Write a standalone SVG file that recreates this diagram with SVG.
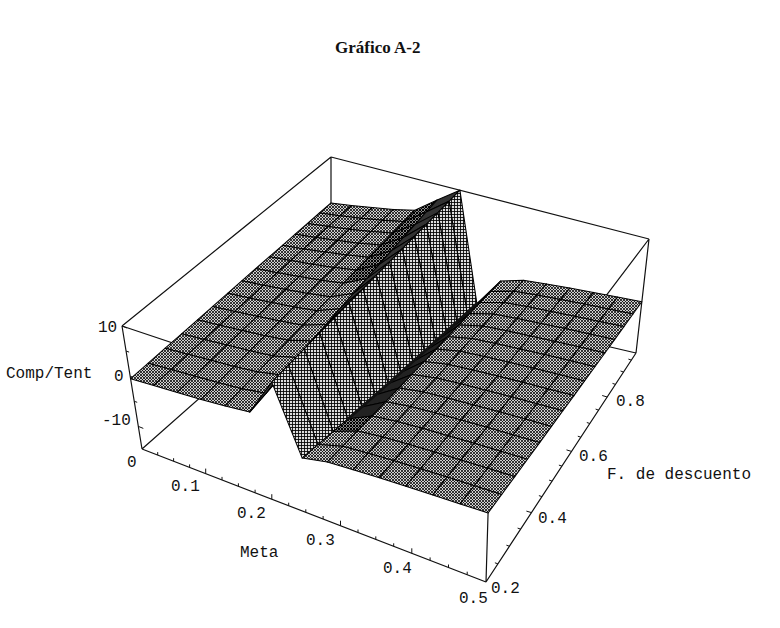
<svg xmlns="http://www.w3.org/2000/svg" width="780" height="628" viewBox="0 0 780 628">
<defs>
<pattern id="hp" width="3" height="3" patternUnits="userSpaceOnUse"><rect width="3" height="3" fill="#cfcfcf"/><path d="M-1,-1L4,4M4,-1L-1,4" stroke="#000" stroke-width="0.75"/></pattern>
<pattern id="hw" width="3" height="3" patternUnits="userSpaceOnUse"><rect width="3" height="3" fill="#dedede"/><path d="M0,1.5H3M1.5,0V3" stroke="#000" stroke-width="0.85"/></pattern>
<pattern id="hd" width="3" height="3" patternUnits="userSpaceOnUse"><rect width="3" height="3" fill="#888"/><path d="M-1,-1L4,4M4,-1L-1,4" stroke="#000" stroke-width="1"/></pattern>
</defs>
<style>
.bx{fill:none;stroke:#111;stroke-width:1.2}
.tk{fill:none;stroke:#111;stroke-width:1}
#surface polygon{stroke:#000;stroke-width:1.05;stroke-linejoin:round}
.p{fill:url(#hp)}.d{fill:url(#hd)}.s{fill:#333}.w{fill:url(#hw)}.c{fill:#222}
.crease{fill:none;stroke:#111;stroke-width:2.8;stroke-linejoin:round;stroke-linecap:round}
.lab{font-family:"Liberation Mono","DejaVu Sans Mono",monospace;font-size:16px;fill:#111}
.ttl{font-family:"Liberation Serif","Times New Roman",serif;font-size:17px;font-weight:bold;fill:#111}
</style>
<rect width="780" height="628" fill="#fff"/>
<text class="ttl" x="335" y="53">Gráfico A-2</text>
<g id="box">
<path class="bx" d="M331,157L649,239M122,326L331,157M649,239L490,449M122,326L490,449M331,157L331,282M649,239L636,353M122,326L142,449M490,449L486,582M142,449L486,582M486,582L636,353M142,449L331,282M331,282L636,353"/>
<path class="tk" d="M122,326l5,2M126.1,351.1l3,1M130.2,376.2l5,2M134.2,401.3l3,1M138.3,426.4l5,2M205.7,473.6v-5M271.8,499.2v-5M340.5,525.7v-5M411.8,553.3v-5M157.7,455.1v-3M173.6,461.2v-3M189.6,467.4v-3M222,479.9v-3M238.4,486.3v-3M255.1,492.7v-3M288.7,505.7v-3M305.8,512.3v-3M323.1,519v-3M358,532.5v-3M375.8,539.4v-3M393.7,546.3v-3M430.1,560.4v-3M448.5,567.5v-3M467.2,574.7v-3M531.4,512.6l-5,-1.5M571.5,451.4l-5,-1.5M607.2,397l-5,-1.5M497.9,563.8l-3,-1M509.4,546.2l-3,-1M520.6,529.1l-3,-1M541.9,496.6l-3,-1M552.1,481.1l-3,-1M561.9,466.1l-3,-1M580.8,437.2l-3,-1M589.8,423.5l-3,-1M598.6,410.1l-3,-1M615.5,384.4l-3,-1M623.5,372l-3,-1M631.4,360.1l-3,-1"/>
</g>
<g id="surface">
<polygon class="p" points="319.4,213 340,215.8 351.5,205.5 331,202.9"/>
<polygon class="p" points="340,215.8 361,218.3 372.3,207.6 351.5,205.5"/>
<polygon class="p" points="361,218.3 382.3,220.3 393.4,209.4 372.3,207.6"/>
<polygon class="p" points="382.3,220.3 403.9,221.5 414.9,210.3 393.4,209.4"/>
<polygon class="d" points="403.9,221.5 426.2,212 437.2,199.9 414.9,210.3"/>
<polygon class="s" points="426.2,212 449.1,201.3 459.9,190.2 437.2,199.9"/>
<polygon class="w" points="449.1,201.3 467.1,312.6 476.9,303.6 459.9,190.2"/>
<polygon class="c" points="467.1,312.6 490.6,291.6 500.5,281.1 476.9,303.6"/>
<polygon class="p" points="490.6,291.6 513.7,291.2 523.4,280.3 500.5,281.1"/>
<polygon class="p" points="513.7,291.2 536.9,295.1 546.5,283.9 523.4,280.3"/>
<polygon class="p" points="536.9,295.1 560.4,299.6 569.8,288.1 546.5,283.9"/>
<polygon class="p" points="560.4,299.6 584.3,304.1 593.5,292.4 569.8,288.1"/>
<polygon class="p" points="584.3,304.1 608.5,309 617.5,297.1 593.5,292.4"/>
<polygon class="p" points="608.5,309 633,314 641.8,301.8 617.5,297.1"/>

<polygon class="p" points="307.5,223.5 328.3,226.5 340,215.8 319.4,213"/>
<polygon class="p" points="328.3,226.5 349.3,229.2 361,218.3 340,215.8"/>
<polygon class="p" points="349.3,229.2 370.8,231.6 382.3,220.3 361,218.3"/>
<polygon class="p" points="370.8,231.6 392.5,233.1 403.9,221.5 382.3,220.3"/>
<polygon class="d" points="392.5,233.1 414.9,224.6 426.2,212 403.9,221.5"/>
<polygon class="s" points="414.9,224.6 437.9,212.6 449.1,201.3 426.2,212"/>
<polygon class="w" points="437.9,212.6 456.9,321.9 467.1,312.6 449.1,201.3"/>
<polygon class="c" points="456.9,321.9 480.5,302.4 490.6,291.6 467.1,312.6"/>
<polygon class="p" points="480.5,302.4 503.7,302.5 513.7,291.2 490.6,291.6"/>
<polygon class="p" points="503.7,302.5 527,306.6 536.9,295.1 513.7,291.2"/>
<polygon class="p" points="527,306.6 550.7,311.4 560.4,299.6 536.9,295.1"/>
<polygon class="p" points="550.7,311.4 574.8,316.2 584.3,304.1 560.4,299.6"/>
<polygon class="p" points="574.8,316.2 599.2,321.4 608.5,309 584.3,304.1"/>
<polygon class="p" points="599.2,321.4 623.9,326.6 633,314 608.5,309"/>

<polygon class="p" points="295.2,234.2 316.1,237.5 328.3,226.5 307.5,223.5"/>
<polygon class="p" points="316.1,237.5 337.4,240.5 349.3,229.2 328.3,226.5"/>
<polygon class="p" points="337.4,240.5 358.9,243.2 370.8,231.6 349.3,229.2"/>
<polygon class="p" points="358.9,243.2 380.9,245 392.5,233.1 370.8,231.6"/>
<polygon class="d" points="380.9,245 403.3,237.5 414.9,224.6 392.5,233.1"/>
<polygon class="s" points="403.3,237.5 426.3,224.3 437.9,212.6 414.9,224.6"/>
<polygon class="w" points="426.3,224.3 446.5,331.5 456.9,321.9 437.9,212.6"/>
<polygon class="c" points="446.5,331.5 470,313.5 480.5,302.4 456.9,321.9"/>
<polygon class="p" points="470,313.5 493.3,314.1 503.7,302.5 480.5,302.4"/>
<polygon class="p" points="493.3,314.1 516.9,318.5 527,306.6 503.7,302.5"/>
<polygon class="p" points="516.9,318.5 540.7,323.5 550.7,311.4 527,306.6"/>
<polygon class="p" points="540.7,323.5 565,328.6 574.8,316.2 550.7,311.4"/>
<polygon class="p" points="565,328.6 589.6,334.1 599.2,321.4 574.8,316.2"/>
<polygon class="p" points="589.6,334.1 614.6,339.6 623.9,326.6 599.2,321.4"/>

<polygon class="p" points="282.5,245.3 303.6,248.9 316.1,237.5 295.2,234.2"/>
<polygon class="p" points="303.6,248.9 325,252.1 337.4,240.5 316.1,237.5"/>
<polygon class="p" points="325,252.1 346.8,255.1 358.9,243.2 337.4,240.5"/>
<polygon class="p" points="346.8,255.1 368.8,257.3 380.9,245 358.9,243.2"/>
<polygon class="d" points="368.8,257.3 391.3,250.8 403.3,237.5 380.9,245"/>
<polygon class="s" points="391.3,250.8 414.4,236.4 426.3,224.3 403.3,237.5"/>
<polygon class="w" points="414.4,236.4 435.7,341.3 446.5,331.5 426.3,224.3"/>
<polygon class="c" points="435.7,341.3 459.1,324.9 470,313.5 446.5,331.5"/>
<polygon class="p" points="459.1,324.9 482.6,326.1 493.3,314.1 470,313.5"/>
<polygon class="p" points="482.6,326.1 506.4,330.8 516.9,318.5 493.3,314.1"/>
<polygon class="p" points="506.4,330.8 530.5,336 540.7,323.5 516.9,318.5"/>
<polygon class="p" points="530.5,336 554.9,341.4 565,328.6 540.7,323.5"/>
<polygon class="p" points="554.9,341.4 579.7,347.1 589.6,334.1 565,328.6"/>
<polygon class="p" points="579.7,347.1 604.9,353 614.6,339.6 589.6,334.1"/>

<polygon class="p" points="269.4,256.7 290.7,260.6 303.6,248.9 282.5,245.3"/>
<polygon class="p" points="290.7,260.6 312.3,264.2 325,252.1 303.6,248.9"/>
<polygon class="p" points="312.3,264.2 334.2,267.5 346.8,255.1 325,252.1"/>
<polygon class="p" points="334.2,267.5 356.4,270.1 368.8,257.3 346.8,255.1"/>
<polygon class="d" points="356.4,270.1 379,264.6 391.3,250.8 368.8,257.3"/>
<polygon class="s" points="379,264.6 402.2,248.9 414.4,236.4 391.3,250.8"/>
<polygon class="w" points="402.2,248.9 424.4,351.4 435.7,341.3 414.4,236.4"/>
<polygon class="c" points="424.4,351.4 447.9,336.7 459.1,324.9 435.7,341.3"/>
<polygon class="p" points="447.9,336.7 471.6,338.5 482.6,326.1 459.1,324.9"/>
<polygon class="p" points="471.6,338.5 495.5,343.4 506.4,330.8 482.6,326.1"/>
<polygon class="p" points="495.5,343.4 519.8,349 530.5,336 506.4,330.8"/>
<polygon class="p" points="519.8,349 544.5,354.6 554.9,341.4 530.5,336"/>
<polygon class="p" points="544.5,354.6 569.5,360.6 579.7,347.1 554.9,341.4"/>
<polygon class="p" points="569.5,360.6 594.9,366.7 604.9,353 579.7,347.1"/>

<polygon class="p" points="255.9,268.5 277.4,272.7 290.7,260.6 269.4,256.7"/>
<polygon class="p" points="277.4,272.7 299.2,276.6 312.3,264.2 290.7,260.6"/>
<polygon class="p" points="299.2,276.6 321.2,280.2 334.2,267.5 312.3,264.2"/>
<polygon class="p" points="321.2,280.2 343.7,283.2 356.4,270.1 334.2,267.5"/>
<polygon class="d" points="343.7,283.2 366.4,278.8 379,264.6 356.4,270.1"/>
<polygon class="s" points="366.4,278.8 389.5,261.8 402.2,248.9 379,264.6"/>
<polygon class="w" points="389.5,261.8 412.8,361.8 424.4,351.4 402.2,248.9"/>
<polygon class="c" points="412.8,361.8 436.3,348.9 447.9,336.7 424.4,351.4"/>
<polygon class="p" points="436.3,348.9 460.1,351.2 471.6,338.5 447.9,336.7"/>
<polygon class="p" points="460.1,351.2 484.3,356.5 495.5,343.4 471.6,338.5"/>
<polygon class="p" points="484.3,356.5 508.8,362.3 519.8,349 495.5,343.4"/>
<polygon class="p" points="508.8,362.3 533.7,368.2 544.5,354.6 519.8,349"/>
<polygon class="p" points="533.7,368.2 559,374.5 569.5,360.6 544.5,354.6"/>
<polygon class="p" points="559,374.5 584.6,380.9 594.9,366.7 569.5,360.6"/>

<polygon class="p" points="242,280.7 263.6,285.2 277.4,272.7 255.9,268.5"/>
<polygon class="p" points="263.6,285.2 285.6,289.4 299.2,276.6 277.4,272.7"/>
<polygon class="p" points="285.6,289.4 307.9,293.4 321.2,280.2 299.2,276.6"/>
<polygon class="p" points="307.9,293.4 330.5,296.8 343.7,283.2 321.2,280.2"/>
<polygon class="p" points="330.5,296.8 353.3,293.5 366.4,278.8 343.7,283.2"/>
<polygon class="s" points="353.3,293.5 376.4,275.1 389.5,261.8 366.4,278.8"/>
<polygon class="w" points="376.4,275.1 400.7,372.6 412.8,361.8 389.5,261.8"/>
<polygon class="c" points="400.7,372.6 424.3,361.5 436.3,348.9 412.8,361.8"/>
<polygon class="p" points="424.3,361.5 448.4,364.4 460.1,351.2 436.3,348.9"/>
<polygon class="p" points="448.4,364.4 472.7,369.9 484.3,356.5 460.1,351.2"/>
<polygon class="p" points="472.7,369.9 497.5,376 508.8,362.3 484.3,356.5"/>
<polygon class="p" points="497.5,376 522.6,382.3 533.7,368.2 508.8,362.3"/>
<polygon class="p" points="522.6,382.3 548.1,388.9 559,374.5 533.7,368.2"/>
<polygon class="p" points="548.1,388.9 574,395.6 584.6,380.9 559,374.5"/>

<polygon class="p" points="227.6,293.3 249.5,298.1 263.6,285.2 242,280.7"/>
<polygon class="p" points="249.5,298.1 271.6,302.6 285.6,289.4 263.6,285.2"/>
<polygon class="p" points="271.6,302.6 294.1,307 307.9,293.4 285.6,289.4"/>
<polygon class="p" points="294.1,307 316.9,310.8 330.5,296.8 307.9,293.4"/>
<polygon class="p" points="316.9,310.8 339.9,308.7 353.3,293.5 330.5,296.8"/>
<polygon class="s" points="339.9,308.7 363,288.8 376.4,275.1 353.3,293.5"/>
<polygon class="w" points="363,288.8 388.2,383.7 400.7,372.6 376.4,275.1"/>
<polygon class="c" points="388.2,383.7 411.9,374.5 424.3,361.5 400.7,372.6"/>
<polygon class="p" points="411.9,374.5 436.1,378 448.4,364.4 424.3,361.5"/>
<polygon class="p" points="436.1,378 460.8,383.8 472.7,369.9 448.4,364.4"/>
<polygon class="p" points="460.8,383.8 485.7,390.3 497.5,376 472.7,369.9"/>
<polygon class="p" points="485.7,390.3 511.1,396.8 522.6,382.3 497.5,376"/>
<polygon class="p" points="511.1,396.8 536.8,403.7 548.1,388.9 522.6,382.3"/>
<polygon class="p" points="536.8,403.7 562.9,410.8 574,395.6 548.1,388.9"/>

<polygon class="p" points="212.8,306.4 234.8,311.4 249.5,298.1 227.6,293.3"/>
<polygon class="p" points="234.8,311.4 257.2,316.3 271.6,302.6 249.5,298.1"/>
<polygon class="p" points="257.2,316.3 279.9,321.1 294.1,307 271.6,302.6"/>
<polygon class="p" points="279.9,321.1 302.9,325.3 316.9,310.8 294.1,307"/>
<polygon class="p" points="302.9,325.3 326,324.5 339.9,308.7 316.9,310.8"/>
<polygon class="s" points="326,324.5 349,303 363,288.8 339.9,308.7"/>
<polygon class="w" points="349,303 375.3,395.1 388.2,383.7 363,288.8"/>
<polygon class="c" points="375.3,395.1 399.1,387.9 411.9,374.5 388.2,383.7"/>
<polygon class="p" points="399.1,387.9 423.5,392 436.1,378 411.9,374.5"/>
<polygon class="p" points="423.5,392 448.4,398.2 460.8,383.8 436.1,378"/>
<polygon class="p" points="448.4,398.2 473.6,404.9 485.7,390.3 460.8,383.8"/>
<polygon class="p" points="473.6,404.9 499.2,411.8 511.1,396.8 485.7,390.3"/>
<polygon class="p" points="499.2,411.8 525.2,419 536.8,403.7 511.1,396.8"/>
<polygon class="p" points="525.2,419 551.5,426.4 562.9,410.8 536.8,403.7"/>

<polygon class="p" points="197.5,319.8 219.7,325.2 234.8,311.4 212.8,306.4"/>
<polygon class="p" points="219.7,325.2 242.3,330.5 257.2,316.3 234.8,311.4"/>
<polygon class="p" points="242.3,330.5 265.1,335.7 279.9,321.1 257.2,316.3"/>
<polygon class="p" points="265.1,335.7 288.3,340.3 302.9,325.3 279.9,321.1"/>
<polygon class="p" points="288.3,340.3 311.7,340.7 326,324.5 302.9,325.3"/>
<polygon class="s" points="311.7,340.7 334.6,317.7 349,303 326,324.5"/>
<polygon class="w" points="334.6,317.7 361.8,406.9 375.3,395.1 349,303"/>
<polygon class="c" points="361.8,406.9 385.8,401.7 399.1,387.9 375.3,395.1"/>
<polygon class="p" points="385.8,401.7 410.4,406.5 423.5,392 399.1,387.9"/>
<polygon class="p" points="410.4,406.5 435.5,413 448.4,398.2 423.5,392"/>
<polygon class="p" points="435.5,413 461,420.1 473.6,404.9 448.4,398.2"/>
<polygon class="p" points="461,420.1 486.9,427.3 499.2,411.8 473.6,404.9"/>
<polygon class="p" points="486.9,427.3 513.1,434.9 525.2,419 499.2,411.8"/>
<polygon class="p" points="513.1,434.9 539.7,442.6 551.5,426.4 525.2,419"/>

<polygon class="p" points="181.6,333.8 204.1,339.5 219.7,325.2 197.5,319.8"/>
<polygon class="p" points="204.1,339.5 226.8,345.1 242.3,330.5 219.7,325.2"/>
<polygon class="p" points="226.8,345.1 249.9,350.8 265.1,335.7 242.3,330.5"/>
<polygon class="p" points="249.9,350.8 273.4,355.9 288.3,340.3 265.1,335.7"/>
<polygon class="p" points="273.4,355.9 297,357.6 311.7,340.7 288.3,340.3"/>
<polygon class="s" points="297,357.6 319.7,333 334.6,317.7 311.7,340.7"/>
<polygon class="w" points="319.7,333 347.8,419.1 361.8,406.9 334.6,317.7"/>
<polygon class="c" points="347.8,419.1 372,416 385.8,401.7 361.8,406.9"/>
<polygon class="p" points="372,416 396.9,421.5 410.4,406.5 385.8,401.7"/>
<polygon class="p" points="396.9,421.5 422.2,428.3 435.5,413 410.4,406.5"/>
<polygon class="p" points="422.2,428.3 448,435.8 461,420.1 435.5,413"/>
<polygon class="p" points="448,435.8 474.1,443.3 486.9,427.3 461,420.1"/>
<polygon class="p" points="474.1,443.3 500.6,451.2 513.1,434.9 486.9,427.3"/>
<polygon class="p" points="500.6,451.2 527.5,459.3 539.7,442.6 513.1,434.9"/>

<polygon class="p" points="165.2,348.2 187.9,354.3 204.1,339.5 181.6,333.8"/>
<polygon class="p" points="187.9,354.3 210.9,360.3 226.8,345.1 204.1,339.5"/>
<polygon class="p" points="210.9,360.3 234.2,366.4 249.9,350.8 226.8,345.1"/>
<polygon class="p" points="234.2,366.4 257.9,372 273.4,355.9 249.9,350.8"/>
<polygon class="p" points="257.9,372 281.7,375.1 297,357.6 273.4,355.9"/>
<polygon class="s" points="281.7,375.1 304.3,348.8 319.7,333 297,357.6"/>
<polygon class="w" points="304.3,348.8 333.2,431.6 347.8,419.1 319.7,333"/>
<polygon class="d" points="333.2,431.6 357.6,430.9 372,416 347.8,419.1"/>
<polygon class="p" points="357.6,430.9 382.8,437.1 396.9,421.5 372,416"/>
<polygon class="p" points="382.8,437.1 408.4,444.2 422.2,428.3 396.9,421.5"/>
<polygon class="p" points="408.4,444.2 434.4,452 448,435.8 422.2,428.3"/>
<polygon class="p" points="434.4,452 460.8,459.9 474.1,443.3 448,435.8"/>
<polygon class="p" points="460.8,459.9 487.6,468.2 500.6,451.2 474.1,443.3"/>
<polygon class="p" points="487.6,468.2 514.8,476.6 527.5,459.3 500.6,451.2"/>

<polygon class="p" points="148.2,363.2 171.1,369.6 187.9,354.3 165.2,348.2"/>
<polygon class="p" points="171.1,369.6 194.3,376.1 210.9,360.3 187.9,354.3"/>
<polygon class="p" points="194.3,376.1 217.9,382.6 234.2,366.4 210.9,360.3"/>
<polygon class="p" points="217.9,382.6 241.8,388.7 257.9,372 234.2,366.4"/>
<polygon class="p" points="241.8,388.7 266,393.3 281.7,375.1 257.9,372"/>
<polygon class="s" points="266,393.3 288.3,365.1 304.3,348.8 281.7,375.1"/>
<polygon class="w" points="288.3,365.1 318,444.6 333.2,431.6 304.3,348.8"/>
<polygon class="p" points="318,444.6 342.8,446.2 357.6,430.9 333.2,431.6"/>
<polygon class="p" points="342.8,446.2 368.2,453.2 382.8,437.1 357.6,430.9"/>
<polygon class="p" points="368.2,453.2 394.1,460.7 408.4,444.2 382.8,437.1"/>
<polygon class="p" points="394.1,460.7 420.4,468.8 434.4,452 408.4,444.2"/>
<polygon class="p" points="420.4,468.8 447.1,477.1 460.8,459.9 434.4,452"/>
<polygon class="p" points="447.1,477.1 474.2,485.7 487.6,468.2 460.8,459.9"/>
<polygon class="p" points="474.2,485.7 501.7,494.5 514.8,476.6 487.6,468.2"/>

<polygon class="p" points="130.6,378.7 153.7,385.5 171.1,369.6 148.2,363.2"/>
<polygon class="p" points="153.7,385.5 177.2,392.4 194.3,376.1 171.1,369.6"/>
<polygon class="p" points="177.2,392.4 201.1,399.4 217.9,382.6 194.3,376.1"/>
<polygon class="p" points="201.1,399.4 225.2,406 241.8,388.7 217.9,382.6"/>
<polygon class="p" points="225.2,406 249.7,412.1 266,393.3 241.8,388.7"/>
<polygon class="s" points="249.7,412.1 271.7,382.1 288.3,365.1 266,393.3"/>
<polygon class="w" points="271.7,382.1 302.2,458.1 318,444.6 288.3,365.1"/>
<polygon class="p" points="302.2,458.1 327.3,462.1 342.8,446.2 318,444.6"/>
<polygon class="p" points="327.3,462.1 353.1,469.8 368.2,453.2 342.8,446.2"/>
<polygon class="p" points="353.1,469.8 379.3,477.7 394.1,460.7 368.2,453.2"/>
<polygon class="p" points="379.3,477.7 405.8,486.2 420.4,468.8 394.1,460.7"/>
<polygon class="p" points="405.8,486.2 432.8,494.9 447.1,477.1 420.4,468.8"/>
<polygon class="p" points="432.8,494.9 460.2,503.9 474.2,485.7 447.1,477.1"/>
<polygon class="p" points="460.2,503.9 488.1,513 501.7,494.5 474.2,485.7"/>
<polyline class="crease" points="347.8,419.1 361.8,406.9 375.3,395.1 388.2,383.7 400.7,372.6 412.8,361.8 424.4,351.4 435.7,341.3 446.5,331.5 456.9,321.9 467.1,312.6 476.9,303.6"/>
</g>
<g id="labels">
<text class="lab" x="6" y="378">Comp/Tent</text>
<text class="lab" x="98" y="332">10</text>
<text class="lab" x="114" y="381">0</text>
<text class="lab" x="102" y="425">-10</text>
<text class="lab" x="127" y="467">0</text>
<text class="lab" x="171" y="491">0.1</text>
<text class="lab" x="237" y="518">0.2</text>
<text class="lab" x="306" y="545">0.3</text>
<text class="lab" x="383" y="573">0.4</text>
<text class="lab" x="459" y="603">0.5</text>
<text class="lab" x="240" y="557">Meta</text>
<text class="lab" x="491" y="593">0.2</text>
<text class="lab" x="538" y="523">0.4</text>
<text class="lab" x="579" y="461">0.6</text>
<text class="lab" x="616" y="406">0.8</text>
<text class="lab" x="607" y="479">F. de descuento</text>
</g>
</svg>
